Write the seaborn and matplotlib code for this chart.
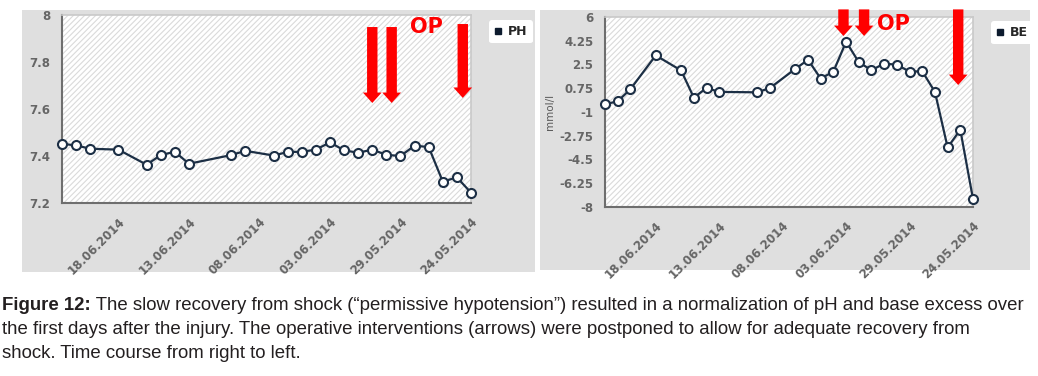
import pandas as pd
import numpy as np
import matplotlib
matplotlib.use('Agg')
import matplotlib.pyplot as plt
import matplotlib.dates as mdates
from matplotlib.patches import Rectangle
from matplotlib.lines import Line2D
import seaborn as sns

## data (time runs right to left)
days = ['2014-06-22', '2014-06-21', '2014-06-20', '2014-06-18', '2014-06-16',
        '2014-06-15', '2014-06-14', '2014-06-13', '2014-06-10', '2014-06-09',
        '2014-06-07', '2014-06-06', '2014-06-05', '2014-06-04', '2014-06-03',
        '2014-06-02', '2014-06-01', '2014-05-31', '2014-05-30', '2014-05-29',
        '2014-05-28', '2014-05-27', '2014-05-26', '2014-05-25', '2014-05-24']
ph = [7.452, 7.445, 7.431, 7.427, 7.363, 7.404, 7.418, 7.367, 7.404, 7.422,
      7.402, 7.417, 7.418, 7.427, 7.458, 7.424, 7.414, 7.427, 7.405, 7.400,
      7.444, 7.438, 7.291, 7.309, 7.244]
be = [-0.43, -0.21, 0.68, 3.17, 2.06, 0.06, 0.77, 0.48, 0.45, 0.77,
      2.18, 2.85, 1.46, 1.98, 4.18, 2.67, 2.08, 2.57, 2.48, 1.98,
      2.00, 0.48, -3.61, -2.31, -7.41]

date_ticks = ['2014-06-18', '2014-06-13', '2014-06-08', '2014-06-03', '2014-05-29', '2014-05-24']
ph_ticks = [7.2, 7.4, 7.6, 7.8, 8]
ph_ticklabels = ['7.2', '7.4', '7.6', '7.8', '8']
be_ticks = [-8, -6.25, -4.5, -2.75, -1, 0.75, 2.5, 4.25, 6]
be_ticklabels = ['-8', '-6.25', '-4.5', '-2.75', '-1', '0.75', '2.5', '4.25', '6']

# OP arrows: (x date, top, tip) - y in axes fraction
ph_arrows = [('2014-05-31 00:00', 0.936, 0.532),
             ('2014-05-29 15:00', 0.936, 0.532),
             ('2014-05-24 14:00', 0.952, 0.559)]
be_arrows = [('2014-06-03 05:00', 1.04, 0.90),
             ('2014-06-01 14:00', 1.04, 0.90),
             ('2014-05-25 04:00', 1.04, 0.642)]

df = pd.DataFrame({'date': pd.to_datetime(days), 'PH': ph, 'BE': be})

sns.set_style('white')
plt.rcParams['font.family'] = ['DejaVu Sans']

W, H = 1038, 376
fig = plt.figure(figsize=(W / 100, H / 100), dpi=100)

line_col = '#1c2f45'
grey_bg = '#dfdfdf'


def px_rect(x0, y0, x1, y1):
    return [x0 / W, 1 - y1 / H, (x1 - x0) / W, (y1 - y0) / H]


# grey chart backgrounds
for x0, y0, x1, y1 in [(22, 10, 535, 272), (540, 10, 1030, 270)]:
    l, b, w, h = px_rect(x0, y0, x1, y1)
    fig.patches.append(Rectangle((l, b), w, h, transform=fig.transFigure,
                                 facecolor=grey_bg, edgecolor='none', zorder=-5))

ax1 = fig.add_axes(px_rect(62, 15, 471, 203))
ax2 = fig.add_axes(px_rect(605, 17, 973, 207))

plt.rcParams['hatch.linewidth'] = 0.8

for ax, col, ticks, tlabels, lims, arrows, op_xy, leg_xy in [
        (ax1, 'PH', ph_ticks, ph_ticklabels, (7.2, 8), ph_arrows, (0.892, 0.936), (483, 14)),
        (ax2, 'BE', be_ticks, be_ticklabels, (-8, 6), be_arrows, (0.785, 0.963), (985, 15))]:
    ax.set_facecolor('white')
    ax.add_patch(Rectangle((0, 0), 1, 1, transform=ax.transAxes, facecolor='white',
                           edgecolor='#dadada', hatch='//////', lw=0, zorder=0))
    sns.lineplot(data=df, x='date', y=col, ax=ax, color=line_col, lw=1.6,
                 marker='o', markersize=6.5, markerfacecolor='white',
                 markeredgecolor=line_col, markeredgewidth=1.5, zorder=3, clip_on=False)
    ax.set_xlim(pd.Timestamp('2014-06-22'), pd.Timestamp('2014-05-24'))
    ax.set_ylim(*lims)
    ax.set_yticks(ticks)
    ax.set_yticklabels(tlabels)
    ax.set_xticks(pd.to_datetime(date_ticks))
    ax.xaxis.set_major_formatter(mdates.DateFormatter('%d.%m.%Y'))
    ax.set_xlabel('')
    ax.set_ylabel('')
    ax.tick_params(axis='both', colors='#6a6a6a', labelcolor='#666666', length=5,
                   width=1.5, labelsize=8.5, direction='out')
    plt.setp(ax.get_xticklabels(), rotation=45, ha='right', rotation_mode='anchor',
             fontweight='bold')
    plt.setp(ax.get_yticklabels(), fontweight='bold')
    for s in ['left', 'bottom']:
        ax.spines[s].set_color('#6e6e6e')
        ax.spines[s].set_linewidth(1.5)
    for s in ['top', 'right']:
        ax.spines[s].set_color('#c9c9c9')
        ax.spines[s].set_linewidth(1.2)

    # red OP arrows
    for xd, top, tip in arrows:
        xd = mdates.date2num(pd.Timestamp(xd))
        ax.annotate('', xy=(xd, tip), xytext=(xd, top),
                    xycoords=('data', 'axes fraction'), textcoords=('data', 'axes fraction'),
                    arrowprops=dict(width=7.5, headwidth=13.5, headlength=7.5,
                                    facecolor='#ff0000', edgecolor='none', shrink=0),
                    annotation_clip=False, zorder=5)
    ax.text(op_xy[0], op_xy[1], 'OP', transform=ax.transAxes, color='#ff0000',
            fontsize=15, fontweight='bold', ha='center', va='center', zorder=5)

    # legend box
    lx, ly = leg_xy
    leg = ax.legend(handles=[Line2D([], [], marker='s', ls='', color='#0d1b2e', markersize=4)],
                    labels=[col], loc='upper left',
                    bbox_to_anchor=(lx / W, 1 - ly / H), bbox_transform=fig.transFigure,
                    frameon=True, fancybox=True, handlelength=0.6, handletextpad=0.5,
                    borderpad=0.4, prop={'weight': 'bold', 'size': 9})
    leg.get_frame().set_edgecolor('none')
    leg.get_frame().set_facecolor('white')
    leg.get_frame().set_alpha(1)

ax2.set_ylabel('mmol/l', color='#5a5a5a', fontsize=7.5, labelpad=3)

# caption
cap_font = ['Liberation Sans', 'DejaVu Sans']
cap1 = (' The slow recovery from shock (\u201cpermissive hypotension\u201d) resulted in a '
        'normalization of pH and base excess over')
cap2 = ('the first days after the injury. The operative interventions (arrows) were '
        'postponed to allow for adequate recovery from')
cap3 = 'shock. Time course from right to left.'

r = fig.canvas.get_renderer()
fs = 13
# shrink the caption size so that the first line fits the width
t0 = fig.text(2 / W, 1 - 305 / H, 'Figure 12:', fontsize=fs, fontweight='bold',
              family=cap_font, color='#231f20', va='center')
t1 = fig.text(0, 1 - 305 / H, cap1, fontsize=fs, family=cap_font, color='#231f20', va='center')
tot = t0.get_window_extent(renderer=r).width + t1.get_window_extent(renderer=r).width
fs = fs * 1022 / tot
t0.set_fontsize(fs)
t1.set_fontsize(fs)
bb = t0.get_window_extent(renderer=r)
t1.set_x(bb.x1 / W)
fig.text(2 / W, 1 - 329 / H, cap2, fontsize=fs, family=cap_font, color='#231f20', va='center')
fig.text(2 / W, 1 - 353 / H, cap3, fontsize=fs, family=cap_font, color='#231f20', va='center')

fig.savefig('out.png', dpi=100)
